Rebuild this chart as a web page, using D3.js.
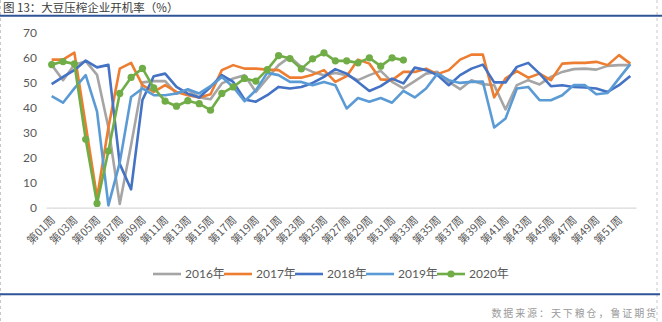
<!DOCTYPE html>
<html><head><meta charset="utf-8">
<script src="https://cdn.jsdelivr.net/npm/d3@7"></script>
<style>
html,body{margin:0;padding:0;background:#fff;}
svg{display:block;}
</style></head>
<body><svg id="c" width="662" height="322"></svg>
<script>
const title = "图 13：大豆压榨企业开机率（%）";
const source = "数据来源：天下粮仓，鲁证期货";
const weeks = d3.range(1, 53).map(i => "第" + String(i).padStart(2, "0") + "周");
const yTicks = [0, 10, 20, 30, 40, 50, 60, 70];
const seriesNames = ["2016年", "2017年", "2018年", "2019年", "2020年"];
const seriesColors = ["#A5A5A5", "#ED7D31", "#4472C4", "#5B9BD5", "#70AD47"];

const y2016 = [57, 50.9, 57, 58.5, 53, 32, 1.5, 25, 50, 50.5, 50.5, 45.5, 47, 44, 43.3, 49.6, 51.6, 52.9, 46.2, 51.6, 56.9, 60.2, 56.2, 54.2, 52.9, 53.8, 52.9, 50.9, 52.9, 54.6, 50.2, 47.6, 50.5, 53.5, 54.2, 50.2, 47.3, 50.9, 49.3, 48.9, 39.2, 48.9, 50.9, 49.2, 52.2, 54.2, 55.3, 55.5, 55.1, 56.6, 56.9, 56.9];
const y2017 = [59.1, 59.1, 61.9, 33, 4, 32, 55.5, 57.8, 48.9, 46.2, 48.9, 46.2, 44.9, 44, 45.3, 54.9, 56.9, 55.5, 55.5, 55.1, 54.9, 51.9, 51.9, 53.1, 54.9, 50.2, 52.5, 59.1, 57.5, 51.2, 50.9, 54.2, 54.2, 55.5, 53.3, 54.9, 59.1, 61.1, 61.1, 44, 51.6, 54.5, 51.9, 53.5, 50.9, 57.5, 57.8, 57.8, 58.2, 56.9, 60.9, 57.5];
const y2018 = [49.3, 52.2, 54.9, 58.7, 56, 57, 17.5, 7.3, 43, 52.5, 53.5, 48.2, 45.5, 44, 48.2, 52.9, 50.2, 43.2, 42.3, 44.9, 48.2, 47.6, 48.2, 49.8, 52.2, 55.3, 53.5, 50.2, 46.6, 48.5, 51.5, 49.6, 55.9, 54.9, 52.9, 48.9, 52.9, 55.5, 57.1, 50, 50, 56.2, 57.8, 53.5, 48.5, 48.9, 48.2, 48, 47.6, 46.2, 48.9, 52.6];
const y2019 = [44.5, 41.9, 47.6, 52.9, 38.3, 0.9, 18, 44.2, 47.6, 44.9, 44.9, 45.6, 47.3, 45.6, 48.5, 52.2, 48.2, 42.5, 46.9, 53.8, 52.9, 50.2, 50.2, 48.9, 50.2, 48.9, 39.6, 43.8, 42.3, 43.8, 41.9, 46.6, 44, 47.6, 53.5, 50.9, 49.8, 50.2, 50.3, 32, 35.6, 47.6, 48.2, 42.9, 42.9, 44.9, 48.9, 48.9, 45.3, 45.8, 51.6, 57.3];
const y2020 = [57.1, 58.3, 57.4, 27.3, 1.7, 22.6, 45.6, 52, 55.6, 47.8, 42.5, 40.5, 42.7, 41.5, 38.9, 45.6, 48.2, 51.6, 50.5, 55.1, 60.7, 59.5, 55.4, 59.4, 61.8, 58.6, 58.6, 57.8, 59.8, 56.5, 59.8, 58.9];
const allSeries = [y2016, y2017, y2018, y2019, y2020];

const svg = d3.select("#c");
const fontNum = "Lato, 'Noto Sans CJK SC', sans-serif";
const fontCJK = "'Noto Sans CJK SC', sans-serif";

// frame
svg.append("rect").attr("width", 662).attr("height", 322).attr("fill", "#fff");
const dash = "#C8C8C8";
svg.append("line").attr("x1", 0.5).attr("x2", 0.5).attr("y1", 0).attr("y2", 322).attr("stroke", dash).attr("stroke-dasharray", "3,3");
svg.append("line").attr("x1", 657).attr("x2", 657).attr("y1", 0).attr("y2", 322).attr("stroke", dash).attr("stroke-dasharray", "3,3");

svg.append("text").attr("x", 3).attr("y", 12).attr("font-family", fontCJK).attr("font-size", 11.5)
  .attr("fill", "#3a3a3a").text(title);
svg.append("line").attr("x1", 0).attr("x2", 662).attr("y1", 15.7).attr("y2", 15.7).attr("stroke", "#2F5597").attr("stroke-width", 2);
svg.append("line").attr("x1", 0).attr("x2", 660).attr("y1", 294.3).attr("y2", 294.3).attr("stroke", "#2F5597").attr("stroke-width", 2);
svg.append("text").attr("x", 658).attr("y", 317).attr("text-anchor", "end").attr("font-family", fontCJK)
  .attr("font-size", 10).attr("letter-spacing", 1.9).attr("fill", "#9a9a9a").text(source);

const x = d3.scaleBand().domain(weeks).range([46, 636]);
const y = d3.scaleLinear().domain([0, 70]).range([207.7, 32.3]);
const cx = w => x(w) + x.bandwidth() / 2;

// y axis labels
const yAxis = svg.append("g").attr("transform", "translate(37,0)")
  .call(d3.axisLeft(y).tickValues(yTicks).tickSize(0).tickPadding(0));
yAxis.select(".domain").remove();
yAxis.selectAll("text").attr("font-family", fontNum).attr("font-size", 12).attr("fill", "#595959");

// x axis
const xAxis = svg.append("g").attr("transform", "translate(0,207.7)")
  .call(d3.axisBottom(x).tickValues(weeks.filter((d, i) => i % 2 === 0)).tickSize(0).tickPadding(0));
xAxis.select(".domain").attr("stroke", "#D9D9D9").attr("stroke-width", 1.3);
xAxis.selectAll("text").attr("font-family", fontCJK).attr("font-size", 11).attr("fill", "#595959")
  .attr("text-anchor", "end").attr("dy", 0)
  .attr("transform", "translate(4,13) rotate(-45)");

// lines
const line = d3.line().x((d, i) => cx(weeks[i])).y(d => y(d));
allSeries.forEach((s, k) => {
  svg.append("path").datum(s).attr("d", line).attr("fill", "none")
    .attr("stroke", seriesColors[k]).attr("stroke-width", 2.6).attr("stroke-linejoin", "round");
});
svg.append("g").selectAll("circle").data(y2020).join("circle")
  .attr("cx", (d, i) => cx(weeks[i])).attr("cy", d => y(d)).attr("r", 3.6).attr("fill", seriesColors[4]);

// legend
const lg = svg.append("g");
seriesNames.forEach((n, k) => {
  const x0 = 153 + k * 71;
  lg.append("line").attr("x1", x0).attr("x2", x0 + 28).attr("y1", 274).attr("y2", 274)
    .attr("stroke", seriesColors[k]).attr("stroke-width", 2.6);
  if (k === 4) lg.append("circle").attr("cx", x0 + 14).attr("cy", 274).attr("r", 3.6).attr("fill", seriesColors[k]);
  lg.append("text").attr("x", x0 + 32).attr("y", 274).attr("dy", "0.35em").attr("font-family", fontNum)
    .attr("font-size", 12).attr("fill", "#595959").text(n);
});
</script></body></html>
